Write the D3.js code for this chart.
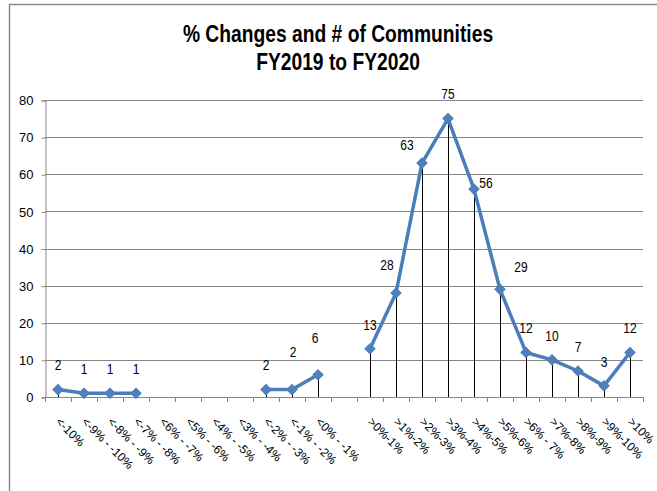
<!DOCTYPE html>
<html>
<head>
<meta charset="utf-8">
<script src="https://cdn.jsdelivr.net/npm/d3@7"></script>
<style>
  html, body { margin: 0; padding: 0; background: #fff; }
  svg { display: block; }
</style>
</head>
<body>
<svg id="chart" width="657" height="491"></svg>
<script>
// ---- data ----
const categories = [
  "<-10%", "<-9% - -10%", "<-8% - -9%", "<-7% - -8%", "<6% - -7%", "<5% - -6%",
  "<4% - -5%", "<3% - -4%", "<-2% - -3%", "<-1% - -2%", "<0% - -1%", " ",
  ">0%-1%", ">1%-2%", ">2%-3%", ">3%-4%", ">4%-5%", ">5%-6%", ">6% - 7%",
  ">7%-8%", ">8%-9%", ">9%-10%", ">10%"
];
const communities = [2, 1, 1, 1, null, null, null, null, 2, 2, 6, null,
  13, 28, 63, 75, 56, 29, 12, 10, 7, 3, 12];
const yTicks = [0, 10, 20, 30, 40, 50, 60, 70, 80];
const titleLines = ["% Changes and # of Communities", "FY2019 to FY2020"];

// label placement tweaks (style, not data): [dx, dy] relative to the point
const labelShift = {
  9: [1, -37], 10: [-3, -37], 13: [-9, -28], 14: [-15, -18],
  16: [12, -6], 17: [21, -22]
};

const SANS = "'Liberation Sans', Arial, Helvetica, sans-serif";

// ---- layout ----
const svg = d3.select("#chart");
const plot = { left: 45, right: 643, top: 100, bottom: 397 };

const x = d3.scaleBand().domain(categories).range([plot.left, plot.right]).padding(0);
const y = d3.scaleLinear().domain([0, 80]).range([plot.bottom, plot.top]);
const cx = c => x(c) + x.bandwidth() / 2;

const data = categories.map((c, i) => ({ c, v: communities[i], i }));

// frame
svg.append("path")
  .attr("d", `M9.5,491 L9.5,4.5 L657,4.5`)
  .attr("fill", "none").attr("stroke", "#8c8c8c").attr("stroke-width", 1.5);

// title (narrow bold face emulated by horizontal scaling)
titleLines.forEach((t, k) => {
  svg.append("text")
    .attr("transform", `translate(338,${42 + k * 28}) scale(0.82,1)`)
    .attr("text-anchor", "middle")
    .attr("font-family", SANS)
    .attr("font-weight", "bold")
    .attr("font-size", "23.5px")
    .attr("fill", "#000")
    .text(t);
});

// gridlines
svg.append("g").selectAll("line").data(yTicks.filter(t => t > 0)).join("line")
  .attr("x1", plot.left).attr("x2", plot.right)
  .attr("y1", d => Math.round(y(d)) + 0.5).attr("y2", d => Math.round(y(d)) + 0.5)
  .attr("stroke", "#878787").attr("stroke-width", 1);

// y axis
const yAxis = svg.append("g")
  .attr("transform", `translate(${plot.left + 0.5},0.5)`)
  .call(d3.axisLeft(y).tickValues(yTicks).tickSize(4).tickPadding(8));
yAxis.select(".domain").attr("stroke", "#878787");
yAxis.selectAll(".tick line").attr("stroke", "#878787");
yAxis.selectAll(".tick text")
  .attr("font-family", SANS)
  .attr("font-size", "13px").attr("fill", "#000");

// x axis
const xAxis = svg.append("g")
  .attr("transform", `translate(0,${plot.bottom + 0.5})`)
  .call(d3.axisBottom(x).tickSize(0).tickPadding(0));
xAxis.select(".domain").attr("stroke", "#878787").attr("d", `M${plot.left},0H${plot.right}`);
xAxis.selectAll(".tick text")
  .attr("font-family", SANS)
  .attr("font-size", "12px").attr("fill", "#000")
  .attr("text-anchor", "start")
  .attr("x", 0).attr("y", 0).attr("dy", "0.35em")
  .attr("transform", "translate(0,22) rotate(45)");

// x tick marks at category boundaries
const bounds = categories.map(c => x(c)).concat([plot.right]);
svg.append("g").selectAll("line").data(bounds).join("line")
  .attr("x1", d => Math.round(d) + 0.5).attr("x2", d => Math.round(d) + 0.5)
  .attr("y1", plot.bottom).attr("y2", plot.bottom + 5)
  .attr("stroke", "#878787");

const pts = data.filter(d => d.v != null);

// drop lines
svg.append("g").selectAll("line").data(pts).join("line")
  .attr("x1", d => Math.round(cx(d.c)) + 0.5).attr("x2", d => Math.round(cx(d.c)) + 0.5)
  .attr("y1", d => y(d.v)).attr("y2", plot.bottom)
  .attr("stroke", "#000").attr("stroke-width", 1);

// line
const line = d3.line()
  .defined(d => d.v != null)
  .x(d => cx(d.c)).y(d => y(d.v));
svg.append("path").datum(data)
  .attr("d", line)
  .attr("fill", "none").attr("stroke", "#4A7EBB")
  .attr("stroke-width", 3.5).attr("stroke-linejoin", "round");

// markers
svg.append("g").selectAll("path").data(pts).join("path")
  .attr("d", d3.symbol(d3.symbolSquare, 52))
  .attr("transform", d => `translate(${cx(d.c)},${y(d.v)}) rotate(45)`)
  .attr("fill", "#4F81BD").attr("stroke", "#4A7EBB").attr("stroke-width", 1);

// data labels
svg.append("g").selectAll("text").data(pts).join("text")
  .attr("transform", d => {
    const s = labelShift[d.i] || [0, -24];
    return `translate(${cx(d.c) + s[0]},${y(d.v) + s[1]}) scale(0.86,1)`;
  })
  .attr("dy", "0.35em")
  .attr("text-anchor", "middle")
  .attr("font-family", SANS)
  .attr("font-size", "14px").attr("fill", "#000")
  .text(d => d.v);
</script>
</body>
</html>
